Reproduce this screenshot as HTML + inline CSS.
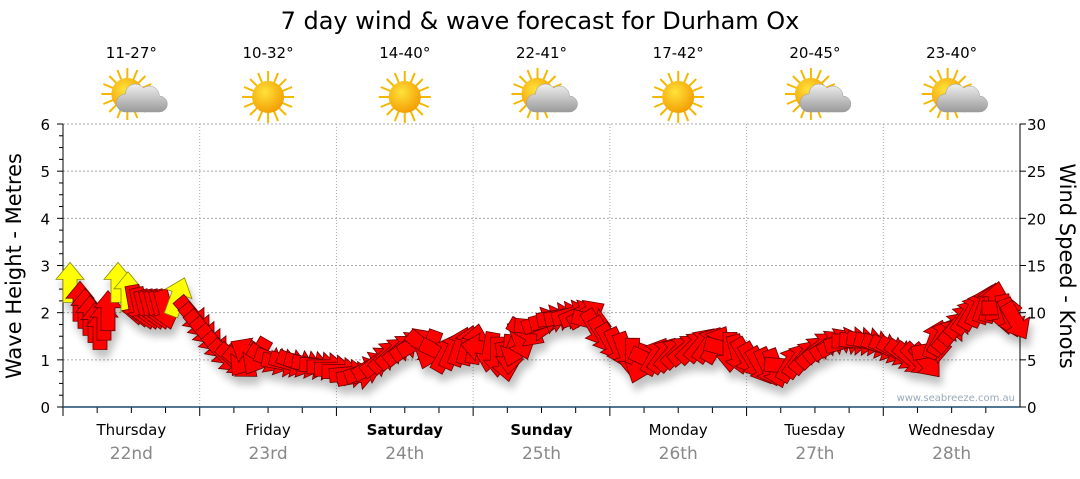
<!DOCTYPE html>
<html><head><meta charset="utf-8"><style>
body{margin:0;background:#fff;font-family:"DejaVu Sans","Liberation Sans",sans-serif}
</style></head><body>
<svg id="s" width="1080" height="475" xmlns="http://www.w3.org/2000/svg" font-family="DejaVu Sans, Liberation Sans, sans-serif">
<defs>
<radialGradient id="sun" cx="0.4" cy="0.35" r="0.7"><stop offset="0" stop-color="#ffe23a"/><stop offset="1" stop-color="#f29a00"/></radialGradient>
<linearGradient id="cl" x1="0" y1="0" x2="0" y2="1"><stop offset="0" stop-color="#f0f0f0"/><stop offset="1" stop-color="#9a9a9a"/></linearGradient>
<filter id="sh" x="-50%" y="-50%" width="200%" height="200%"><feGaussianBlur in="SourceAlpha" stdDeviation="4"/><feOffset dx="3" dy="8"/><feComponentTransfer><feFuncA type="linear" slope="0.25"/></feComponentTransfer><feMerge><feMergeNode/><feMergeNode in="SourceGraphic"/></feMerge></filter>
<g id="sunic"><g stroke="#f5b800" stroke-width="2">
<line x1="0" y1="-26" x2="0" y2="26"/><line x1="-26" y1="0" x2="26" y2="0"/><line x1="-18" y1="-18" x2="18" y2="18"/><line x1="-18" y1="18" x2="18" y2="-18"/><line x1="-10" y1="-24" x2="10" y2="24"/><line x1="-24" y1="-10" x2="24" y2="10"/><line x1="10" y1="-24" x2="-10" y2="24"/><line x1="24" y1="-10" x2="-24" y2="10"/></g>
<circle r="16" fill="url(#sun)"/></g>
<g id="cloud"><path d="M-6,14 h34 a8,8 0 0 0 0,-16 a10,10 0 0 0 -16,-8 a10,10 0 0 0 -18,6 a9,9 0 0 0 0,18z" fill="url(#cl)" stroke="#999" stroke-width="0.5"/></g>
</defs>
<text x="540" y="29" font-size="24" text-anchor="middle">7 day wind &amp; wave forecast for Durham Ox</text>
<g id="grid"></g>
<line x1="63" y1="124" x2="63" y2="407" stroke="#000"/>
<line x1="1020" y1="124" x2="1020" y2="407" stroke="#000"/>
<line x1="63" y1="407" x2="1020" y2="407" stroke="#1a4a6e" stroke-width="1.5"/>
<text transform="translate(21,266) rotate(-90)" font-size="21" text-anchor="middle">Wave Height - Metres</text>
<text transform="translate(1060,266) rotate(90)" font-size="21" text-anchor="middle">Wind Speed - Knots</text>
<text x="1015" y="401" font-size="10" fill="#9ab" text-anchor="end">www.seabreeze.com.au</text>
<g id="arr" filter="url(#sh)"></g>
</svg>
<script>
(function(){
var s=document.getElementById('grid'),NS='http://www.w3.org/2000/svg';
function el(t,a,p,txt){var e=document.createElementNS(NS,t);for(var k in a)e.setAttribute(k,a[k]);if(txt)e.textContent=txt;(p||s).appendChild(e);return e;}
var T=124,B=407,L=63,R=1020,dw=(R-L)/7;
for(var i=0;i<=6;i++){var y=B-i*(B-T)/6;
 if(i>0)el('line',{x1:L,y1:y,x2:R,y2:y,stroke:'#aaa','stroke-dasharray':'2,2'});
 el('text',{x:50,y:y+6,'font-size':15,'text-anchor':'end'},s,String(i));
 el('text',{x:1027,y:y+6,'font-size':15},s,String(i*5));
 el('line',{x1:L-6,y1:y,x2:L,y2:y,stroke:'#000'});el('line',{x1:R,y1:y,x2:R+6,y2:y,stroke:'#000'});
 if(i<6)for(var j=1;j<4;j++){var yy=y-j*(B-T)/24;el('line',{x1:L-4,y1:yy,x2:L,y2:yy,stroke:'#000'});}
}
var days=['Thursday','Friday','Saturday','Sunday','Monday','Tuesday','Wednesday'],dt=['22nd','23rd','24th','25th','26th','27th','28th'],tp=['11-27°','10-32°','14-40°','22-41°','17-42°','20-45°','23-40°'],cloud=[1,0,0,1,0,1,1];
for(var d=0;d<7;d++){var x0=L+d*dw,cx=x0+dw/2;
 if(d>0)el('line',{x1:x0,y1:T,x2:x0,y2:B,stroke:'#aaa','stroke-dasharray':'1,2'});
 for(var q=0;q<4;q++)el('line',{x1:x0+q*dw/4,y1:B,x2:x0+q*dw/4,y2:B+(q==0?9:6),stroke:'#000'});
 el('text',{x:cx,y:435,'font-size':15,'text-anchor':'middle','font-weight':(d==2||d==3)?'bold':'normal'},s,days[d]);
 el('text',{x:cx,y:459,'font-size':17,'text-anchor':'middle',fill:'#888'},s,dt[d]);
 el('text',{x:cx,y:58,'font-size':15,'text-anchor':'middle'},s,tp[d]);
 el('use',{href:'#sunic',x:cx-(cloud[d]?4:0),y:cloud[d]?94:97});
 if(cloud[d])el('use',{href:'#cloud',x:cx,y:98});
}
var P=[[70,2.6,1,0],[80,2.2,0,0],[90,1.9,0,0],[100,1.6,0,0],[108,2.0,0,0],[118,2.6,1,0],[128,2.4,1,0],[135,2.2,0,170],[145,2.1,0,165],[155,2.1,0,165],[165,2.1,0,165],[177,2.3,1,20],[190,2.0,0,140],[200,1.7,0,140],[212,1.4,0,140],[225,1.1,0,135],[240,0.95,0,130],[250,1.15,0,300],[265,1.05,0,120],[280,0.95,0,100],[295,0.95,0,110],[310,0.9,0,100],[325,0.85,0,90],[340,0.75,0,90],[355,0.65,0,80],[370,0.85,0,60],[385,1.05,0,45],[400,1.2,0,50],[415,1.35,0,60],[430,1.25,0,200],[445,1.1,0,30],[460,1.25,0,20],[475,1.3,0,10],[490,1.2,0,190],[505,1.0,0,170],[515,1.3,0,200],[525,1.6,0,120],[540,1.8,0,70],[555,1.9,0,80],[570,1.95,0,75],[585,1.95,0,60],[595,1.7,0,150],[610,1.4,0,150],[625,1.2,0,160],[640,0.95,0,200],[655,1.05,0,30],[670,1.1,0,40],[685,1.2,0,50],[700,1.3,0,40],[715,1.3,0,30],[730,1.2,0,180],[745,1.1,0,150],[760,0.9,0,150],[775,0.85,0,160],[790,0.9,0,30],[805,1.05,0,40],[820,1.25,0,50],[835,1.35,0,60],[850,1.4,0,90],[865,1.4,0,100],[880,1.3,0,110],[895,1.2,0,120],[910,1.05,0,130],[925,1.0,0,140],[935,1.4,0,20],[948,1.5,0,40],[960,1.8,0,40],[972,2.0,0,30],[985,2.15,0,20],[995,2.2,0,10],[1005,2.0,0,170],[1015,1.85,0,150]];
var Q=[];
for(var k=0;k<P.length;k++){Q.push(P[k]);if(k<P.length-1){var a=P[k],b=P[k+1];if(!a[2]&&!b[2])Q.push([(a[0]+b[0])/2,(a[1]+b[1])/2,0,a[3]+((b[3]-a[3]+540)%360-180)/2]);}}
var ag=document.getElementById('arr');
Q.forEach(function(p){var y=B-p[1]*(B-T)/6;
 el('polygon',{points:'0,-22 14,-5 7,-5 7,18 -7,18 -7,-5 -14,-5',fill:p[2]?'#ffff00':'#ff0000',stroke:p[2]?'#888800':'#660000','stroke-width':0.8,transform:'translate('+p[0]+','+y+') rotate('+p[3]+')'},ag);});
})();
</script>
</body></html>
